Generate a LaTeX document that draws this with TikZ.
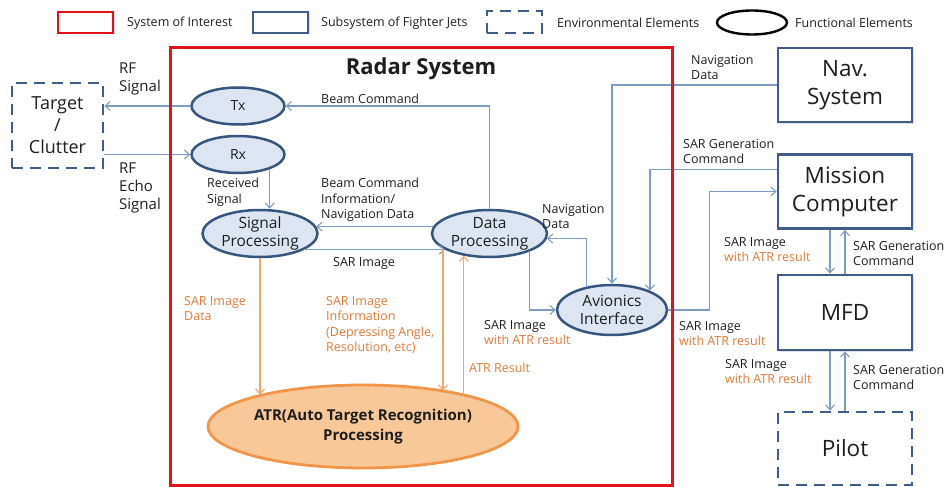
\documentclass[tikz,border=0pt]{standalone}
\usepackage{fontspec}
\setmainfont{Open Sans}
\usepackage{tikz}
\usetikzlibrary{arrows.meta,positioning,calc,shapes.geometric,shadows}
\definecolor{soiRed}{HTML}{E3121B}
\definecolor{boxBlue}{HTML}{3E5C8C}
\definecolor{funcEdge}{HTML}{36557F}
\definecolor{linkBlue}{HTML}{7C9CC6}
\definecolor{funcFill}{HTML}{DCE5F1}
\definecolor{atrLine}{HTML}{F4A56C}
\definecolor{atrText}{HTML}{E07A36}
\definecolor{atrFill}{HTML}{F9C899}
\definecolor{atrEdge}{HTML}{F19548}
\definecolor{ink}{HTML}{1E1E1E}

\newcommand{\lblsize}{\fontsize{12.5}{15.5}\selectfont}
\newcommand{\withatr}{\textcolor{atrText}{with ATR result}}

\begin{document}
\begin{tikzpicture}[x=1pt,y=-1pt,>={Straight Barb[length=5pt,width=9pt]},
  every node/.style={inner sep=0pt,text=ink},
  func/.style={ellipse,draw=funcEdge,line width=2.5pt,fill=funcFill,inner sep=-4pt,
    align=center,font=\fontsize{15.5}{18}\selectfont},
  sub/.style={rectangle,draw=boxBlue,line width=2.8pt,fill=white,align=center,
    minimum width=134pt,minimum height=74pt,font=\fontsize{22.5}{28}\selectfont,
    drop shadow={opacity=.25,shadow xshift=1.5pt,shadow yshift=-1.5pt}},
  env/.style={rectangle,draw=boxBlue,line width=2.8pt,dash pattern=on 11pt off 7pt,
    fill=white,align=center},
  link/.style={->,draw=linkBlue,line width=1.1pt},
  atrlink/.style={->,draw=atrLine,line width=1.1pt},
  lbl/.style={align=left,font=\lblsize,anchor=north west},
  olbl/.style={lbl,text=atrText}]
\useasboundingbox (0,0) rectangle (950,487);

% --- legend ---
\node[draw=soiRed,line width=2.8pt,minimum width=55pt,minimum height=21pt,
  fill=white,drop shadow={opacity=.25,shadow xshift=1.5pt,shadow yshift=-1.5pt}] (legsoi) at (85.5,22.5) {};
\node[lbl,anchor=west] (legsoitxt) at (127,23) {System of Interest};
\node[draw=boxBlue,line width=2.8pt,minimum width=55pt,minimum height=21pt,
  fill=white,drop shadow={opacity=.25,shadow xshift=1.5pt,shadow yshift=-1.5pt}] (legsub) at (280.5,22.5) {};
\node[lbl,anchor=west] (legsubtxt) at (321,23) {Subsystem of Fighter Jets};
\node[env,minimum width=55pt,minimum height=22pt] (legenv) at (514.5,22) {};
\node[lbl,anchor=west] (legenvtxt) at (557,23) {Environmental Elements};
\node[ellipse,draw,line width=2.4pt,minimum width=70pt,minimum height=24pt] (legfunc) at (752,22.5) {};
\node[lbl,anchor=west] (legfunctxt) at (795,23) {Functional Elements};

% --- radar system ---
\node[font=\bfseries\fontsize{22}{26}\selectfont] (title) at (421,69) {Radar System};
\node[func,minimum width=93pt,minimum height=37pt,font=\fontsize{14}{17}\selectfont] (tx) at (238,106) {Tx};
\node[func,minimum width=93pt,minimum height=37pt,font=\fontsize{14}{17}\selectfont] (rx) at (238,154.5) {Rx};
\node[func,minimum width=115pt,minimum height=47pt] (sp) at (260,233.5) {Signal\\Processing};
\node[func,minimum width=115pt,minimum height=47pt] (dp) at (489.5,233.5) {Data\\Processing};
\node[func,minimum width=110pt,minimum height=50pt] (ai) at (612,310) {Avionics\\Interface};
\node[ellipse,draw=atrEdge,line width=2.8pt,fill=atrFill,inner sep=-4pt,inner xsep=-8pt,
  minimum width=310pt,minimum height=83pt,align=center,
  font=\bfseries\fontsize{15}{20}\selectfont] (atr) at (363,426.5) {ATR(Auto Target Recognition)\\Processing};

% --- outside the radar ---
\node[env,minimum width=91pt,minimum height=85pt,font=\fontsize{18}{22}\selectfont] (tgt) at (57.5,125.5) {Target\\/\\Clutter};
\node[sub] (nav) at (845,85) {Nav.\\System};
\node[sub] (mc) at (845,191.5) {Mission\\Computer};
\node[sub,minimum height=75pt] (mfd) at (845,312.5) {MFD};
\node[env,minimum width=134pt,minimum height=73pt,font=\fontsize{22.5}{28}\selectfont] (pilot) at (845,448.5) {Pilot};

% --- data flows ---
\draw[link] (tx.west) -- (tx.west -| tgt.east);
\draw[link] (rx.west -| tgt.east) -- (rx.west);
\draw[link] (rx.-25) -- (rx.-25 |- sp.north);
\draw[link] (dp.north) |- (tx.east);
\draw[link] (dp.173) -- (sp.7);
\draw[link] (sp.-20) -- (dp.200);
\draw[link] (dp.-24) |- (ai.west);
\draw[link] (ai.137) |- (dp.-5);
\draw[link] (nav.west) -| (ai.north);
\draw[link] (mc.162) -| (ai.27);
\draw[link] (ai.east) -- ++(41,0) |- (mc.west);
\draw[link] ([xshift=-15pt]mc.south) -- ([xshift=-15pt]mfd.north);
\draw[link] (mfd.north) -- (mc.south);
\draw[link] ([xshift=-15pt]mfd.south) -- ([xshift=-15pt]pilot.north);
\draw[link] (pilot.north) -- (mfd.south);
\draw[atrlink] (sp.south) -- (sp.south |- atr.163);
\draw[atrlink] (dp.198) -- (dp.198 |- atr.23);
\draw[atrlink] (atr.17 -| dp.221) -- (dp.221);

% --- flow labels ---
\node[lbl,font=\fontsize{15}{18}\selectfont] (rfsig) at (119,63) {RF\\Signal};
\node[lbl,font=\fontsize{15}{18}\selectfont] (rfecho) at (119,163) {RF\\Echo\\Signal};
\node[lbl] (beamcmd) at (321,94) {Beam Command};
\node[lbl] (recsig) at (207,178) {Received\\Signal};
\node[lbl] (beaminfo) at (321,178) {Beam Command\\Information/\\Navigation Data};
\node[lbl] (sarimg) at (333,257) {SAR Image};
\node[lbl] (navdp) at (542,204) {Navigation\\Data};
\node[lbl] (sardp) at (484,320) {SAR Image\\\withatr};
\node[lbl] (navdata) at (691,55) {Navigation\\Data};
\node[lbl] (sargen) at (683,139) {SAR Generation\\Command};
\node[lbl] (sarai) at (679,321) {SAR Image\\\withatr};
\node[lbl] (sarmc) at (724,237) {SAR Image\\\withatr};
\node[lbl] (genmfd) at (853,241) {SAR Generation\\Command};
\node[lbl] (sarmfd) at (725,359) {SAR Image\\\withatr};
\node[lbl] (genpilot) at (853,365) {SAR Generation\\Command};
\node[olbl] (sardata) at (184,296) {SAR Image\\Data};
\node[olbl] (sarinfo) at (326,296) {SAR Image\\Information\\(Depressing Angle,\\Resolution, etc)};
\node[olbl] (atrres) at (469,363) {ATR Result};

% system of interest border
\draw[soiRed,line width=3pt] (170,48) rectangle (672,485);
\end{tikzpicture}
\end{document}
